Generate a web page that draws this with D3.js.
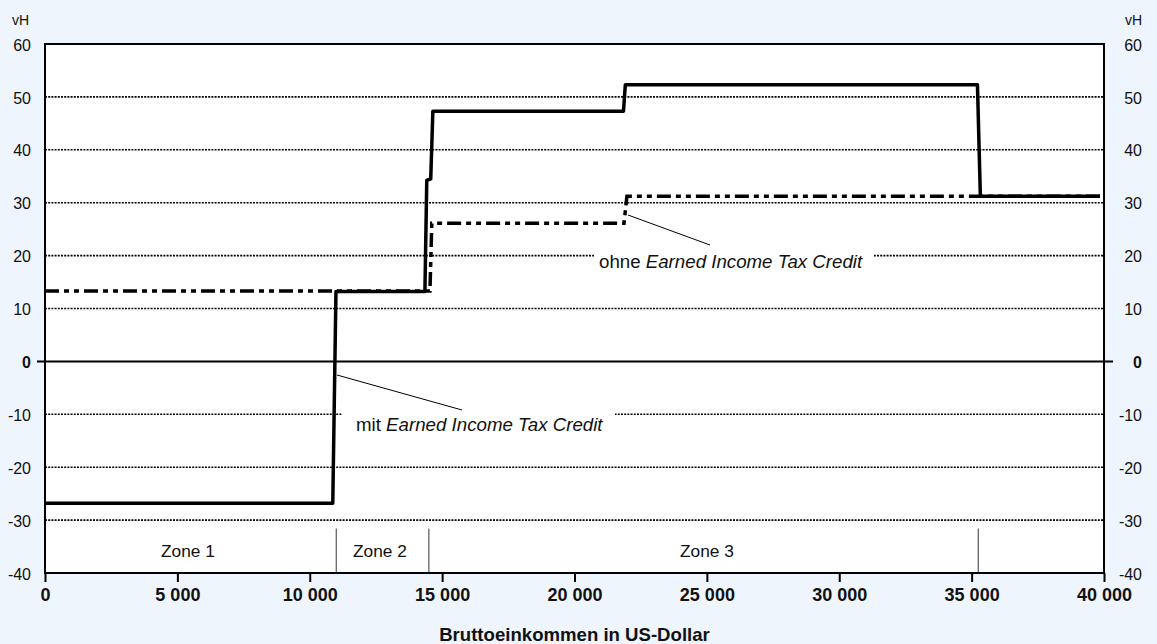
<!DOCTYPE html>
<html><head><meta charset="utf-8">
<script src="https://cdn.jsdelivr.net/npm/d3@7"></script>
<style>
html,body{margin:0;padding:0;background:#eef5fc;}
svg{display:block;font-family:"Liberation Sans",Arial,Helvetica,sans-serif;}
</style></head>
<body><svg id="c" width="1157" height="644"></svg>
<script>
// ---- data ----
const yTicks = [-40,-30,-20,-10,0,10,20,30,40,50,60];
const xTicks = [0,5000,10000,15000,20000,25000,30000,35000,40000];
const xTickLabels = ["0","5 000","10 000","15 000","20 000","25 000","30 000","35 000","40 000"];
// marginal burden with EITC
const mitIncome = [0,10870,10990,14350,14420,14570,14650,21850,21920,35220,35330,39850];
const mitRate   = [-26.8,-26.8,13.2,13.2,34.2,34.5,47.3,47.3,52.3,52.3,31.2,31.2];
// marginal burden without EITC
const ohneIncome = [0,14540,14610,21870,21980,39850];
const ohneRate   = [13.3,13.3,26.1,26.1,31.2,31.2];
// zones
const zoneBounds = [0,11000,14500,35250,40000];
const zoneLabels = ["Zone 1","Zone 2","Zone 3"];
const zoneLabelX = [5400,12650,25000];

const svg = d3.select("#c");
const L=45,R=1104,T=44,B=573;
const x = d3.scaleLinear().domain([0,40000]).range([L,R]);
const y = d3.scaleLinear().domain([-40,60]).range([B,T]);

// plot background
svg.append("rect").attr("x",L).attr("y",T).attr("width",R-L).attr("height",B-T).attr("fill","#fff");

// grid lines (dotted)
const grid = svg.append("g");
yTicks.filter(v=>v!==0 && v!==-40).forEach(v=>{
  grid.append("line").attr("x1",L).attr("x2",R).attr("y1",y(v)).attr("y2",y(v))
    .attr("stroke","#000").attr("stroke-width",1.6).attr("stroke-dasharray","2,1.2");
});

// zone separators
zoneBounds.slice(1,-1).forEach(v=>{
  svg.append("line").attr("x1",x(v)).attr("x2",x(v)).attr("y1",y(-31.6)).attr("y2",B)
    .attr("stroke","#000").attr("stroke-width",0.8);
});
zoneLabels.forEach((t,i)=>{
  svg.append("text").attr("x",x(zoneLabelX[i])).attr("y",557).attr("text-anchor","middle")
    .attr("font-size",17.3).attr("fill","#111").text(t);
});

// zero line
svg.append("line").attr("x1",L-8).attr("x2",R+9).attr("y1",y(0)).attr("y2",y(0))
  .attr("stroke","#000").attr("stroke-width",2);

// annotation backgrounds
svg.append("rect").attr("x",594).attr("y",249).attr("width",280).attr("height",26).attr("fill","#fff");
svg.append("rect").attr("x",342).attr("y",412).attr("width",273).attr("height",28).attr("fill","#fff");

// lines
const line = d3.line().x(d=>x(d[0])).y(d=>y(d[1]));
svg.append("path").datum(ohneIncome.map((v,i)=>[v,ohneRate[i]]))
  .attr("d",line).attr("fill","none").attr("stroke","#000").attr("stroke-width",3.5)
  .attr("stroke-dasharray","14,5,5,5,5,5");
svg.append("path").datum(mitIncome.map((v,i)=>[v,mitRate[i]]))
  .attr("d",line).attr("fill","none").attr("stroke","#000").attr("stroke-width",3.5)
  .attr("stroke-linejoin","round");

// annotations
svg.append("line").attr("x1",628).attr("y1",215).attr("x2",710).attr("y2",245).attr("stroke","#000").attr("stroke-width",1);
const t1 = svg.append("text").attr("x",599).attr("y",267.5).attr("font-size",18.7).attr("fill","#111");
t1.append("tspan").text("ohne ");
t1.append("tspan").attr("font-style","italic").text("Earned Income Tax Credit");
svg.append("line").attr("x1",337).attr("y1",375).attr("x2",462).attr("y2",410).attr("stroke","#000").attr("stroke-width",1);
const t2 = svg.append("text").attr("x",356).attr("y",431).attr("font-size",18.7).attr("fill","#111");
t2.append("tspan").text("mit ");
t2.append("tspan").attr("font-style","italic").text("Earned Income Tax Credit");

// frame
svg.append("rect").attr("x",L).attr("y",T).attr("width",R-L).attr("height",B-T)
  .attr("fill","none").attr("stroke","#000").attr("stroke-width",2);

// y axis labels left / right
yTicks.forEach(v=>{
  [31,1142].forEach(px=>{
    svg.append("text").attr("x",px).attr("y",y(v)+1).attr("dy","0.35em").attr("text-anchor","end")
      .attr("font-size",16).attr("font-weight",v===0?"bold":"normal").attr("fill","#111").text(v);
  });
});
svg.append("text").attr("x",12).attr("y",25).attr("font-size",14).attr("fill","#111").text("vH");
svg.append("text").attr("x",1142).attr("y",25).attr("text-anchor","end").attr("font-size",14).attr("fill","#111").text("vH");

// x axis
const xa = svg.append("g").attr("transform",`translate(0,${B})`)
  .call(d3.axisBottom(x).tickValues(xTicks).tickFormat((d,i)=>xTickLabels[i]).tickSize(9).tickSizeOuter(0).tickPadding(6));
xa.select(".domain").remove();
xa.selectAll(".tick line").attr("stroke","#000").attr("stroke-width",2);
xa.selectAll(".tick text").attr("font-size",18).attr("font-weight","bold").attr("fill","#111")
  .attr("font-family","'Liberation Sans',Arial,sans-serif");

svg.append("text").attr("x",(L+R)/2).attr("y",641).attr("text-anchor","middle")
  .attr("font-size",18.6).attr("font-weight","bold").attr("fill","#111").text("Bruttoeinkommen in US-Dollar");
</script></body></html>
